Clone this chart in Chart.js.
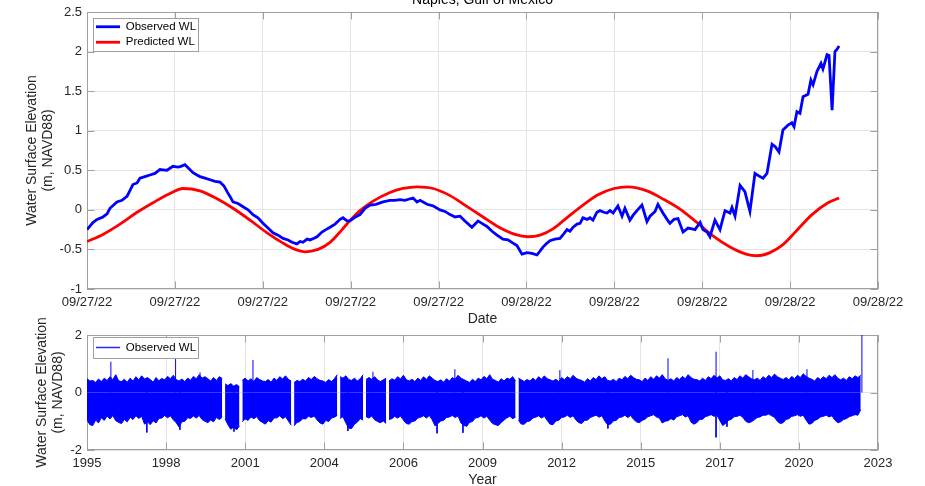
<!DOCTYPE html>
<html>
<head>
<meta charset="utf-8">
<title>Naples, Gulf of Mexico</title>
<script src="https://cdn.jsdelivr.net/npm/chart.js@4.4.1/dist/chart.umd.min.js"></script>
<style>
  html, body { margin: 0; padding: 0; background: #ffffff; }
  #page { position: relative; width: 925px; height: 486px; overflow: hidden; }
  #stormChart { position: absolute; left: 0; top: -10px; width: 925px; height: 340px; }
  #recordChart { position: absolute; left: 0; top: 295px; width: 925px; height: 196px; }
</style>
</head>
<body>
<div id="page">
  <canvas id="stormChart" width="925" height="340"></canvas>
  <canvas id="recordChart" width="925" height="196"></canvas>
</div>
<script>
// storm window, hours after 09/27/22 00:00
const obsHours = [
  0, 0.33, 0.56, 0.89, 1.12, 1.28, 1.67, 1.95, 2.23, 2.56,
  2.79, 2.95, 3.23, 3.51, 3.79, 4.07, 4.46, 4.79, 5.07, 5.24,
  5.46, 5.69, 5.91, 6.13, 6.30, 6.58, 6.86, 7.14, 7.42, 7.64,
  7.81, 7.97, 8.14, 8.42, 8.70, 8.98, 9.25, 9.53, 9.81, 10.09,
  10.37, 10.65, 10.93, 11.21, 11.43, 11.71, 11.88, 12.04, 12.27, 12.43,
  12.66, 12.82, 13.10, 13.32, 13.55, 13.83, 14.11, 14.27, 14.50, 14.66,
  14.89, 15.22, 15.50, 15.78, 16.11, 16.50, 16.89, 17.17, 17.45, 17.73,
  18.01, 18.18, 18.40, 18.57, 18.96, 19.29, 19.68, 19.96, 20.24, 20.52,
  20.80, 21.07, 21.46, 21.80, 22.08, 22.30, 22.58, 22.86, 23.19, 23.47,
  23.75, 23.97, 24.25, 24.53, 24.81, 25.09, 25.26, 25.42, 25.65, 25.81,
  26.09, 26.37, 26.59, 26.76, 26.93, 27.10, 27.32, 27.49, 27.65, 27.88,
  28.04, 28.21, 28.43, 28.60, 28.82, 28.99, 29.16, 29.33, 29.60, 29.83,
  29.99, 30.27, 30.44, 30.66, 30.94, 31.22, 31.39, 31.67, 31.83, 32.11,
  32.34, 32.50, 32.73, 32.95, 33.23, 33.51, 33.73, 33.90, 34.18, 34.34,
  34.57, 34.73, 35.01, 35.29, 35.57, 35.85, 35.96, 36.13, 36.41, 36.68,
  36.96, 37.24, 37.52, 37.69, 37.91, 38.19, 38.36, 38.58, 38.80, 39.08,
  39.30, 39.42, 39.58, 39.75, 39.92, 40.20, 40.36, 40.48, 40.70, 40.92,
  41.03, 41.26, 41.37, 41.54, 41.70, 41.82, 41.93
];
const obsLevels = [
  -0.25, -0.16, -0.12, -0.09, -0.05, 0.02, 0.10, 0.12, 0.17, 0.32,
  0.34, 0.40, 0.42, 0.44, 0.46, 0.51, 0.50, 0.55, 0.54, 0.55,
  0.57, 0.52, 0.47, 0.44, 0.42, 0.40, 0.38, 0.36, 0.35, 0.30,
  0.23, 0.17, 0.10, 0.08, 0.04, 0.00, -0.06, -0.10, -0.17, -0.23,
  -0.29, -0.32, -0.36, -0.38, -0.41, -0.43, -0.40, -0.41, -0.37, -0.38,
  -0.36, -0.34, -0.28, -0.25, -0.22, -0.18, -0.12, -0.10, -0.14, -0.14,
  -0.10, -0.06, 0.02, 0.06, 0.07, 0.10, 0.12, 0.12, 0.13, 0.12,
  0.14, 0.15, 0.10, 0.12, 0.07, 0.05, 0.00, -0.02, -0.06, -0.09,
  -0.08, -0.14, -0.22, -0.14, -0.18, -0.21, -0.27, -0.32, -0.37, -0.38,
  -0.42, -0.45, -0.56, -0.54, -0.55, -0.57, -0.52, -0.47, -0.42, -0.39,
  -0.37, -0.36, -0.30, -0.25, -0.27, -0.22, -0.18, -0.17, -0.10, -0.12,
  -0.10, -0.13, -0.03, -0.01, -0.03, -0.04, -0.01, -0.04, 0.05, -0.08,
  0.02, -0.13, -0.07, -0.01, 0.06, -0.15, -0.08, -0.02, 0.07, -0.04,
  -0.12, -0.17, -0.12, -0.11, -0.28, -0.23, -0.24, -0.25, -0.16, -0.25,
  -0.28, -0.34, -0.13, -0.25, -0.01, -0.04, 0.03, -0.08, 0.31, 0.23,
  -0.02, 0.46, 0.42, 0.40, 0.46, 0.83, 0.80, 0.73, 1.01, 1.07,
  1.10, 1.05, 1.24, 1.22, 1.43, 1.46, 1.64, 1.58, 1.75, 1.85,
  1.78, 1.96, 1.95, 1.26, 2.00, 2.03, 2.07
];
const predHours = [
  0, 0.89, 1.84, 2.73, 3.68, 4.57, 5.35, 6.30, 7.25, 8.14,
  9.09, 10.04, 10.93, 11.60, 12.15, 12.88, 13.55, 14.22, 14.72, 15.22,
  15.95, 16.89, 17.62, 18.40, 19.29, 20.24, 21.13, 22.08, 22.97, 23.86,
  24.59, 25.26, 25.98, 26.65, 27.54, 28.49, 29.38, 30.16, 31.22, 32.17,
  33.06, 34.01, 34.90, 35.85, 36.74, 37.35, 38.08, 38.80, 39.53, 40.42,
  41.31, 41.93
];
const predLevels = [
  -0.40, -0.31, -0.18, -0.04, 0.09, 0.20, 0.27, 0.24, 0.14, 0.02,
  -0.13, -0.29, -0.42, -0.50, -0.53, -0.50, -0.41, -0.25, -0.12, -0.01,
  0.11, 0.22, 0.27, 0.29, 0.27, 0.18, 0.05, -0.09, -0.22, -0.31,
  -0.34, -0.32, -0.24, -0.12, 0.04, 0.19, 0.27, 0.29, 0.24, 0.13,
  0.01, -0.16, -0.33, -0.47, -0.56, -0.58, -0.54, -0.44, -0.27, -0.06,
  0.09, 0.15
];
const dateTickLabels = [
  '09/27/22', '09/27/22', '09/27/22', '09/27/22', '09/27/22',
  '09/28/22', '09/28/22', '09/28/22', '09/28/22', '09/28/22'
];

// full record: upper and lower edge of the hourly band, one value every 0.1 yr from 1995.8
const yearTickLabels = ['1995', '1998', '2001', '2004', '2006', '2009', '2012', '2015', '2017', '2020', '2023'];
const bandStartYear = 1995.8;
const bandStep = 0.1;
const bandHigh = [
  0.48, 0.40,
  0.42, 0.35, 0.47, 0.38, 0.50, 0.42, 0.55, 0.45, 0.62, 0.41,
  0.38, 0.46, 0.36, 0.50, 0.40, 0.55, 0.44, 0.58, 0.47, 0.52,
  0.45, 0.36, 0.52, 0.41, 0.49, 0.44, 0.56, 0.48, 0.60, 0.45,
  0.40, 0.47, 0.38, 0.50, 0.43, 0.56, 0.48, 0.62, 0.50, 0.55,
  0.48, 0.40, 0.52, 0.42, 0.55, 0.49, 0.30, 0.24, 0.31, 0.22,
  0.28, 0.20, 0.43, 0.50, 0.40, 0.48, 0.38, 0.52, 0.45, 0.40,
  0.38, 0.45, 0.36, 0.50, 0.42, 0.55, 0.47, 0.58, 0.46, 0.40,
  0.35, 0.42, 0.38, 0.46, 0.40, 0.52, 0.45, 0.56, 0.48, 0.42,
  0.40, 0.35, 0.45, 0.38, 0.48, 0.62, 0.55, 0.50, 0.58, 0.45,
  0.42, 0.50, 0.40, 0.48, 0.62, 0.45, 0.52, 0.46, 0.55, 0.44,
  0.38, 0.44, 0.50, 0.40, 0.48, 0.43, 0.55, 0.47, 0.60, 0.45,
  0.40, 0.46, 0.38, 0.50, 0.42, 0.55, 0.45, 0.58, 0.50, 0.42,
  0.38, 0.44, 0.36, 0.48, 0.40, 0.52, 0.46, 0.60, 0.50, 0.45,
  0.40, 0.35, 0.46, 0.38, 0.50, 0.44, 0.56, 0.48, 0.62, 0.46,
  0.42, 0.36, 0.48, 0.40, 0.50, 0.46, 0.55, 0.40, 0.50, 0.44,
  0.38, 0.45, 0.40, 0.50, 0.42, 0.55, 0.46, 0.58, 0.48, 0.44,
  0.40, 0.46, 0.38, 0.52, 0.44, 0.55, 0.48, 0.60, 0.50, 0.45,
  0.42, 0.36, 0.48, 0.40, 0.52, 0.45, 0.58, 0.48, 0.55, 0.42,
  0.40, 0.46, 0.38, 0.50, 0.44, 0.56, 0.48, 0.60, 0.52, 0.46,
  0.44, 0.38, 0.50, 0.42, 0.55, 0.46, 0.58, 0.50, 0.62, 0.48,
  0.42, 0.48, 0.40, 0.52, 0.45, 0.56, 0.48, 0.62, 0.52, 0.46,
  0.45, 0.40, 0.50, 0.42, 0.55, 0.48, 0.60, 0.50, 0.58, 0.44,
  0.42, 0.48, 0.40, 0.52, 0.45, 0.58, 0.50, 0.62, 0.55, 0.48,
  0.44, 0.50, 0.42, 0.55, 0.48, 0.60, 0.52, 0.64, 0.55, 0.50,
  0.45, 0.52, 0.44, 0.56, 0.48, 0.60, 0.52, 0.65, 0.56, 0.50,
  0.46, 0.40, 0.52, 0.45, 0.55, 0.48, 0.60, 0.52, 0.62, 0.50,
  0.44, 0.50, 0.42, 0.55, 0.48, 0.58, 0.52, 0.60
];
const bandLow = [
  -0.96, -1.12,
  -1.15, -0.96, -1.06, -0.88, -0.97, -0.82, -0.92, -0.80, -0.98, -1.04,
  -1.08, -0.94, -1.02, -0.86, -0.94, -0.81, -0.90, -0.83, -1.10, -1.02,
  -1.12, -0.98, -1.06, -0.90, -0.89, -0.80, -0.88, -0.81, -0.95, -1.05,
  -1.20, -1.02, -1.00, -0.88, -0.90, -0.82, -0.89, -0.80, -0.94, -1.00,
  -1.05, -0.96, -1.02, -0.87, -0.94, -0.86, -0.92, -1.12, -1.28, -1.20,
  -1.30, -1.16, -1.02, -0.92, -0.97, -0.85, -0.91, -0.84, -0.98, -1.04,
  -1.10, -0.98, -1.03, -0.89, -0.88, -0.81, -0.91, -0.84, -0.99, -1.14,
  -1.16, -1.04, -1.01, -0.91, -0.92, -0.83, -0.87, -0.82, -0.96, -1.06,
  -1.10, -0.97, -1.01, -0.89, -0.86, -0.80, -0.90, -0.84, -1.06, -1.24,
  -1.25, -1.10, -1.03, -0.91, -0.96, -0.84, -0.89, -0.82, -0.95, -1.01,
  -1.05, -0.99, -1.08, -0.94, -0.91, -0.83, -0.89, -0.82, -0.96, -1.08,
  -1.10, -1.01, -0.99, -0.89, -0.86, -0.81, -0.89, -0.80, -0.95, -1.16,
  -1.08, -0.99, -0.97, -0.87, -0.85, -0.80, -0.87, -0.82, -1.06, -1.14,
  -1.18, -1.04, -1.01, -0.89, -0.87, -0.81, -0.89, -0.83, -0.96, -1.08,
  -1.12, -1.15, -1.04, -0.96, -0.88, -0.83, -0.91, -0.86, -0.97, -1.10,
  -1.10, -1.01, -0.99, -0.89, -0.86, -0.81, -0.89, -0.83, -0.97, -1.10,
  -1.12, -0.99, -0.97, -0.87, -0.85, -0.79, -0.87, -0.81, -0.96, -1.05,
  -1.08, -0.97, -0.96, -0.87, -0.83, -0.79, -0.86, -0.81, -0.99, -1.12,
  -1.10, -0.99, -0.97, -0.87, -0.85, -0.79, -0.87, -0.80, -0.93, -1.02,
  -1.05, -0.97, -0.93, -0.84, -0.81, -0.77, -0.85, -0.89, -1.06, -1.00,
  -0.98, -0.91, -0.96, -0.84, -0.81, -0.77, -0.85, -0.81, -1.03, -1.10,
  -1.05, -0.94, -0.93, -0.84, -0.81, -0.77, -0.83, -0.79, -0.97, -1.15,
  -1.08, -0.97, -0.93, -0.84, -0.83, -0.79, -0.86, -1.00, -1.05, -1.02,
  -0.95, -0.87, -0.85, -0.79, -0.79, -0.75, -0.81, -0.86, -1.00, -1.08,
  -1.05, -0.94, -0.91, -0.83, -0.81, -0.77, -0.83, -0.79, -0.96, -1.10,
  -1.08, -0.97, -0.93, -0.85, -0.83, -0.79, -0.85, -0.81, -0.96, -1.05,
  -1.02, -0.94, -0.91, -0.84, -0.81, -0.77, -0.79, -0.60
];
const gapYears = [2000.58, 2001.15, 2002.97, 2004.52, 2005.44, 2006.29, 2010.74];
const spikeYears = [
  1996.63, 1997.88, 1998.88, 1999.03, 1999.73, 2000.91, 2001.57, 2004.87, 2005.74, 2007.97,
  2008.59, 2008.87, 2012.24, 2013.91, 2016.00, 2017.67, 2017.67, 2018.05, 2018.95, 2020.83,
  2022.74
];
const spikeLevels = [
  1.07, -1.39, 1.19, -1.30, 0.70, -1.36, 1.13, -1.34, 0.72, -1.42,
  0.81, -1.40, 0.78, -1.25, 1.19, 1.42, -1.56, -1.19, 0.78, 0.81,
  2.10
];

Chart.defaults.font.family = '"Liberation Sans", Arial, Helvetica, sans-serif';
Chart.defaults.color = '#262626';

const gridColor = '#e4e4e4';
const frameColor = '#a0a0a0';

// matlab-like frame: box, inward ticks on all sides, boxed legend drawn over the data
const matlabAxes = {
  id: 'matlabAxes',
  afterLayout(chart, args, opts) {
    // the legend plugin lays out its hit boxes afterwards (afterUpdate)
    const lg = chart.legend;
    if (!lg || !opts.legendAt) return;
    const area = chart.chartArea;
    const w = lg.width, h = lg.height;
    lg.left = area.left + opts.legendAt[0];
    lg.top = area.top + opts.legendAt[1];
    lg.right = lg.left + w;
    lg.bottom = lg.top + h;
  },
  beforeDatasetsDraw(chart, args, opts) {
    const {ctx, chartArea: area, scales} = chart;
    const len = opts.tickLength;
    ctx.save();
    ctx.strokeStyle = frameColor;
    ctx.lineWidth = 1;
    ctx.beginPath();
    scales.x.ticks.forEach(t => {
      const px = Math.round(scales.x.getPixelForValue(t.value)) + 0.5;
      ctx.moveTo(px, area.bottom);
      ctx.lineTo(px, area.bottom - len);
      ctx.moveTo(px, area.top);
      ctx.lineTo(px, area.top + len);
    });
    scales.y.ticks.forEach(t => {
      const py = Math.round(scales.y.getPixelForValue(t.value)) + 0.5;
      ctx.moveTo(area.left, py);
      ctx.lineTo(area.left + len, py);
      ctx.moveTo(area.right, py);
      ctx.lineTo(area.right - len, py);
    });
    ctx.stroke();
    ctx.strokeRect(Math.round(area.left) + 0.5, Math.round(area.top) + 0.5,
      Math.round(area.right - area.left) - 1, Math.round(area.bottom - area.top) - 1);
    ctx.restore();
  },
  afterDatasetsDraw(chart, args, opts) {
    const lg = chart.legend;
    if (!lg || !lg.legendHitBoxes || !lg.legendHitBoxes.length) return;
    const boxes = lg.legendHitBoxes;
    const m = opts.legendMargin;
    const left = Math.round(Math.min(...boxes.map(b => b.left)) - m[0]);
    const top = Math.round(Math.min(...boxes.map(b => b.top)) - m[1]);
    const right = Math.round(Math.max(...boxes.map(b => b.left + b.width)) + m[2]);
    const bottom = Math.round(Math.max(...boxes.map(b => b.top + b.height)) + m[3]);
    const ctx = chart.ctx;
    ctx.save();
    ctx.fillStyle = '#ffffff';
    ctx.fillRect(left, top, right - left, bottom - top);
    ctx.strokeStyle = frameColor;
    ctx.lineWidth = 1;
    ctx.strokeRect(left + 0.5, top + 0.5, right - left, bottom - top);
    ctx.restore();
    lg.draw();
  }
};

function evenTicks(labels) {
  return scale => {
    const n = labels.length;
    scale.ticks = labels.map((_, i) => ({ value: scale.min + i * (scale.max - scale.min) / (n - 1) }));
  };
}
const plainNumber = v => String(+v.toFixed(2));

const tickFont = { size: 13 };
const titleFont = { size: 14 };
const legendLabels = {
  usePointStyle: true,
  pointStyle: 'line',
  pointStyleWidth: 24,
  padding: 4,
  color: '#000000',
  font: { size: 11.5 }
};

// top panel: observed vs predicted during the storm
new Chart(document.getElementById('stormChart'), {
  type: 'line',
  data: {
    datasets: [
      {
        label: 'Observed WL',
        data: obsHours.map((h, i) => ({ x: h, y: obsLevels[i] })),
        borderColor: '#0000ff',
        borderWidth: 2.8,
        pointRadius: 0,
        tension: 0
      },
      {
        label: 'Predicted WL',
        data: predHours.map((h, i) => ({ x: h, y: predLevels[i] })),
        borderColor: '#ff0000',
        borderWidth: 2.8,
        pointRadius: 0,
        cubicInterpolationMode: 'monotone'
      }
    ]
  },
  options: {
    responsive: false,
    animation: false,
    layout: { padding: { left: 20, right: 47, top: 0, bottom: 0 } },
    scales: {
      x: {
        type: 'linear',
        min: 0,
        max: 44.1,
        afterBuildTicks: evenTicks(dateTickLabels),
        afterFit: s => { s.height = 41; },
        ticks: {
          callback: (v, i) => dateTickLabels[i],
          autoSkip: false,
          maxRotation: 0,
          padding: 6,
          font: tickFont
        },
        grid: { color: gridColor, drawTicks: false },
        border: { display: false },
        title: { display: true, text: 'Date', font: titleFont, padding: { top: 0, bottom: 2 } }
      },
      y: {
        min: -1,
        max: 2.5,
        afterFit: s => { s.width = 67; },
        ticks: { stepSize: 0.5, padding: 5, font: tickFont, callback: plainNumber },
        grid: { color: gridColor, drawTicks: false },
        border: { display: false },
        title: {
          display: true,
          text: ['Water Surface Elevation', '(m, NAVD88)'],
          font: titleFont,
          padding: { top: 3.4, bottom: 0 }
        }
      }
    },
    plugins: {
      title: {
        display: true,
        text: 'Naples, Gulf of Mexico',
        fullSize: false,
        color: '#000000',
        font: { size: 14, weight: 'normal' },
        padding: { top: 2, bottom: 3.2 }
      },
      legend: { position: 'chartArea', align: 'start', labels: legendLabels },
      tooltip: { enabled: false },
      matlabAxes: { tickLength: 7.5, legendAt: [5, 5], legendMargin: [3, 3, 2, 3] }
    }
  },
  plugins: [matlabAxes]
});

// bottom panel: the whole hourly record
const bandYears = bandHigh.map((_, i) => +(bandStartYear + i * bandStep).toFixed(2));
function bandPoints(values) {
  const pts = values.map((v, i) => ({ x: bandYears[i], y: v }));
  gapYears.forEach(g => pts.push({ x: g, y: null }));
  return pts.sort((a, b) => a.x - b.x);
}
const spikePoints = [];
spikeYears.forEach((yr, i) => {
  spikePoints.push({ x: yr, y: 0 }, { x: yr, y: spikeLevels[i] }, { x: yr, y: null });
});

new Chart(document.getElementById('recordChart'), {
  type: 'line',
  data: {
    datasets: [
      {
        label: 'Observed WL',
        data: bandPoints(bandHigh),
        borderColor: '#0000ff',
        backgroundColor: '#0000ff',
        borderWidth: 1,
        pointRadius: 0,
        fill: 'origin',
        spanGaps: false
      },
      {
        label: 'low',
        data: bandPoints(bandLow),
        borderColor: '#0000ff',
        backgroundColor: '#0000ff',
        borderWidth: 1,
        pointRadius: 0,
        fill: 'origin',
        spanGaps: false
      },
      {
        label: 'peaks',
        data: spikePoints,
        borderColor: '#0000ff',
        borderWidth: 1,
        pointRadius: 0,
        fill: false,
        spanGaps: false
      }
    ]
  },
  options: {
    responsive: false,
    animation: false,
    layout: { padding: { left: 20, right: 47, top: 40, bottom: 0 } },
    scales: {
      x: {
        type: 'linear',
        min: 1995.8,
        max: 2023.3,
        afterBuildTicks: evenTicks(yearTickLabels),
        afterFit: s => { s.height = 41; },
        ticks: {
          callback: (v, i) => yearTickLabels[i],
          autoSkip: false,
          maxRotation: 0,
          padding: 6,
          font: tickFont
        },
        grid: { color: gridColor, drawTicks: false },
        border: { display: false },
        title: { display: true, text: 'Year', font: titleFont, padding: { top: 0, bottom: 2 } }
      },
      y: {
        min: -2,
        max: 2,
        afterFit: s => { s.width = 67; },
        ticks: { stepSize: 2, padding: 5, font: tickFont, callback: plainNumber },
        grid: { color: gridColor, drawTicks: false },
        border: { display: false },
        title: {
          display: true,
          text: ['Water Surface Elevation', '(m, NAVD88)'],
          font: titleFont,
          padding: { top: 13.4, bottom: 0 }
        }
      }
    },
    plugins: {
      legend: {
        position: 'chartArea',
        align: 'start',
        labels: Object.assign({}, legendLabels, {
          filter: item => item.datasetIndex === 0,
          generateLabels: chart => Chart.defaults.plugins.legend.labels.generateLabels(chart)
            .map(item => Object.assign(item, { lineWidth: 1.4, strokeStyle: '#2a2aff' }))
        })
      },
      tooltip: { enabled: false },
      matlabAxes: { tickLength: 7.5, legendAt: [5, 2.75], legendMargin: [3, 4.75, 2, 4.75] }
    }
  },
  plugins: [matlabAxes]
});
</script>
</body>
</html>
